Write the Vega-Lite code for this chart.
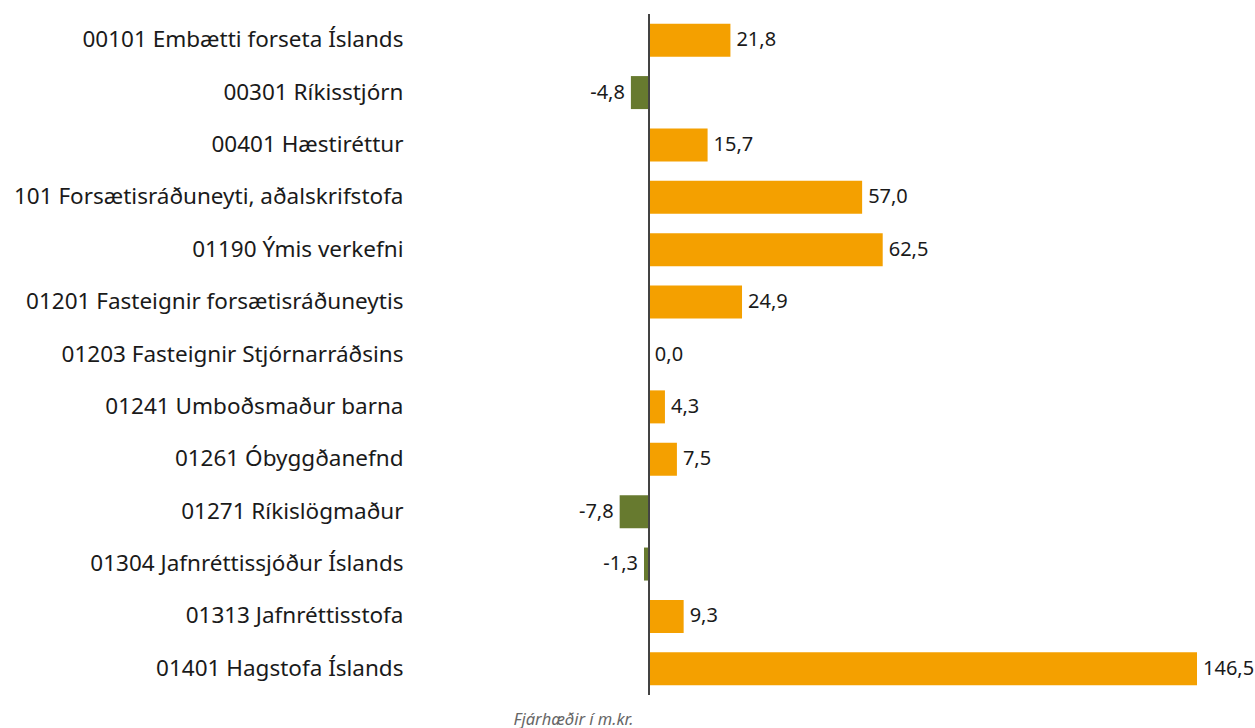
{
  "$schema": "https://vega.github.io/schema/vega-lite/v6.json",
  "autosize": "none",
  "width": 840,
  "height": 681,
  "padding": {"left": 415, "top": 14, "right": 0, "bottom": 33},
  "background": "white",
  "config": {
    "view": {"stroke": null},
    "font": "Noto Sans",
    "locale": {"number": {"decimal": ",", "thousands": ".", "grouping": [3], "currency": ["", " kr."], "minus": "-"}}
  },
  "data": {
    "values": [
      {"name": "00101 Embætti forseta Íslands", "value": 21.8},
      {"name": "00301 Ríkisstjórn", "value": -4.8},
      {"name": "00401 Hæstiréttur", "value": 15.7},
      {"name": "101 Forsætisráðuneyti, aðalskrifstofa", "value": 57.0},
      {"name": "01190 Ýmis verkefni", "value": 62.5},
      {"name": "01201 Fasteignir forsætisráðuneytis", "value": 24.9},
      {"name": "01203 Fasteignir Stjórnarráðsins", "value": 0.0},
      {"name": "01241 Umboðsmaður barna", "value": 4.3},
      {"name": "01261 Óbyggðanefnd", "value": 7.5},
      {"name": "01271 Ríkislögmaður", "value": -7.8},
      {"name": "01304 Jafnréttissjóður Íslands", "value": -1.3},
      {"name": "01313 Jafnréttisstofa", "value": 9.3},
      {"name": "01401 Hagstofa Íslands", "value": 146.5}
    ]
  },
  "encoding": {
    "y": {
      "field": "name",
      "type": "nominal",
      "sort": null,
      "scale": {"paddingInner": 0.37, "paddingOuter": 0.185},
      "axis": {
        "title": null,
        "domain": false,
        "ticks": false,
        "labelFontSize": 22.5,
        "labelColor": "#1a1a1a",
        "labelPadding": 12,
        "labelLimit": 500,
        "labelFont": "Noto Sans"
      }
    },
    "x": {
      "field": "value",
      "type": "quantitative",
      "scale": {"domain": [-62.5, 162], "nice": false, "zero": false},
      "axis": {
        "title": "Fjárhæðir í m.kr.",
        "domain": false,
        "ticks": false,
        "labels": false,
        "grid": false,
        "titleFontStyle": "italic",
        "titleFontWeight": "normal",
        "titleFontSize": 16.5,
        "titleColor": "#666666",
        "titleX": 158,
        "titleY": 24,
        "titleAlign": "center",
        "titleBaseline": "middle"
      }
    }
  },
  "layer": [
    {
      "mark": {"type": "bar"},
      "encoding": {
        "color": {
          "condition": {"test": "datum.value < 0", "value": "#677A2F"},
          "value": "#F4A000"
        }
      }
    },
    {
      "mark": {"type": "rule", "color": "#444444", "strokeWidth": 1.5},
      "encoding": {
        "x": {"datum": 0, "type": "quantitative"},
        "y": null
      }
    },
    {
      "transform": [{"filter": "datum.value >= 0"}],
      "mark": {"type": "text", "align": "left", "dx": 6, "fontSize": 20, "color": "#1a1a1a"},
      "encoding": {
        "text": {"field": "value", "type": "quantitative", "format": ".1f"}
      }
    },
    {
      "transform": [{"filter": "datum.value < 0"}],
      "mark": {"type": "text", "align": "right", "dx": -6, "fontSize": 20, "color": "#1a1a1a"},
      "encoding": {
        "text": {"field": "value", "type": "quantitative", "format": ".1f"}
      }
    }
  ]
}
